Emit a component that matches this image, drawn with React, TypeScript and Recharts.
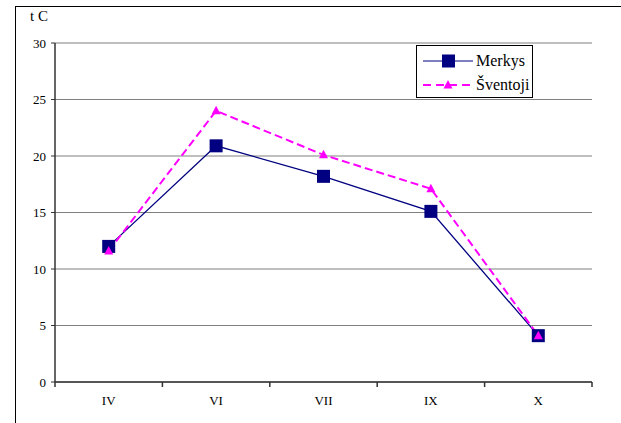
import React from "react";
import { LineChart, Line, XAxis, YAxis, CartesianGrid } from "recharts";

// Months (Roman numerals) and water temperature, °C
const months = ["IV", "VI", "VII", "IX", "X"];
const merkys = [12.0, 20.9, 18.2, 15.1, 4.1];
const sventoji = [11.6, 24.0, 20.1, 17.1, 4.1];
const yTicks = [0, 5, 10, 15, 20, 25, 30];

const data = months.map((m, i) => ({ month: m, Merkys: merkys[i], "Šventoji": sventoji[i] }));

const FONT = "'Liberation Serif', 'Times New Roman', serif";

const SquareDot = (props: any) => {
  const { cx, cy } = props;
  if (cx == null || cy == null) return null;
  return <rect x={cx - 6.5} y={cy - 6.5} width={13} height={13} fill="#000080" />;
};

const TriangleDot = (props: any) => {
  const { cx, cy } = props;
  if (cx == null || cy == null) return null;
  return (
    <polygon
      points={`${cx},${cy - 5} ${cx - 4.5},${cy + 3.5} ${cx + 4.5},${cy + 3.5}`}
      fill="#FF00FF"
    />
  );
};

// Category labels centred in each band, tick marks on the band boundaries
const MonthTick = (props: any) => {
  const { x, y, payload, index } = props;
  const half = payload && payload.offset ? payload.offset : 53.75;
  const axisY = y - 8;
  return (
    <g>
      {index === 0 && (
        <line x1={x - half} y1={axisY} x2={x - half} y2={axisY + 5} stroke="#333" strokeWidth={1.5} />
      )}
      <line x1={x + half} y1={axisY} x2={x + half} y2={axisY + 5} stroke="#333" strokeWidth={1.5} />
      <text x={x} y={axisY + 23} textAnchor="middle" fontFamily={FONT} fontSize={13} fill="#000">
        {payload.value}
      </text>
    </g>
  );
};

const YTick = (props: any) => {
  const { x, y, payload } = props;
  return (
    <text x={x} y={y + 4.5} textAnchor="end" fontFamily={FONT} fontSize={13} fill="#000">
      {payload.value}
    </text>
  );
};

const legendItems = [
  { name: "Merkys", color: "#000080", dash: undefined as string | undefined, marker: "square" },
  { name: "Šventoji", color: "#FF00FF", dash: "8 5", marker: "triangle" },
];

const LegendBox = () => (
  <div
    style={{
      position: "absolute",
      left: 416,
      top: 45,
      border: "1px solid #000",
      background: "#fff",
      width: 117,
      height: 53,
      boxSizing: "border-box",
      padding: "3px 0 0 5px",
      fontFamily: FONT,
      fontSize: 16,
      color: "#000",
    }}
  >
    {legendItems.map((it) => (
      <div key={it.name} style={{ display: "flex", alignItems: "center", height: 24 }}>
        <svg width={52} height={16} style={{ marginRight: 2, flexShrink: 0 }}>
          <line x1={1} y1={8} x2={51} y2={8} stroke={it.color} strokeWidth={it.dash ? 2 : 1.2} strokeDasharray={it.dash} />
          {it.marker === "square" ? (
            <rect x={20} y={1.5} width={13} height={13} fill={it.color} />
          ) : (
            <polygon points="26,3 21.5,11.5 30.5,11.5" fill={it.color} />
          )}
        </svg>
        <span style={{ whiteSpace: "nowrap" }}>{it.name}</span>
      </div>
    ))}
  </div>
);

export default function App() {
  return (
    <div
      style={{
        position: "absolute",
        left: 0,
        top: 0,
        width: 621,
        height: 423,
        background: "#fff",
        overflow: "hidden",
      }}
    >
      <div
        style={{
          position: "absolute",
          left: 15,
          top: 6,
          width: 700,
          height: 500,
          borderLeft: "1.5px solid #000",
          borderTop: "1.5px solid #000",
        }}
      />
      <div
        style={{
          position: "absolute",
          left: 30,
          top: 8,
          fontFamily: FONT,
          fontSize: 15,
          color: "#000",
        }}
      >
        t C
      </div>
      <LineChart
        width={621}
        height={423}
        data={data}
        margin={{ top: 43, right: 29, bottom: 11, left: 0 }}
        style={{ position: "absolute", left: 0, top: 0 }}
      >
        <CartesianGrid vertical={false} stroke="#808080" strokeWidth={1.2} />
        <XAxis
          dataKey="month"
          scale="band"
          height={30}
          axisLine={{ stroke: "#333", strokeWidth: 1.5 }}
          tickLine={false}
          tick={<MonthTick />}
          interval={0}
        />
        <YAxis
          domain={[0, 30]}
          ticks={yTicks}
          width={55}
          tickSize={4}
          tickMargin={5}
          axisLine={{ stroke: "#333", strokeWidth: 1.5 }}
          tickLine={{ stroke: "#333" }}
          tick={<YTick />}
        />
        <YAxis
          yAxisId="frame"
          orientation="right"
          width={0}
          domain={[0, 30]}
          tick={false}
          tickLine={false}
          axisLine={{ stroke: "#999", strokeWidth: 1.5 }}
        />
        <Line
          type="linear"
          dataKey="Merkys"
          stroke="#000080"
          strokeWidth={1.3}
          dot={<SquareDot />}
          activeDot={false}
          isAnimationActive={false}
        />
        <Line
          type="linear"
          dataKey="Šventoji"
          stroke="#FF00FF"
          strokeWidth={2}
          strokeDasharray="8 4"
          dot={<TriangleDot />}
          activeDot={false}
          isAnimationActive={false}
        />
      </LineChart>
      <LegendBox />
    </div>
  );
}
